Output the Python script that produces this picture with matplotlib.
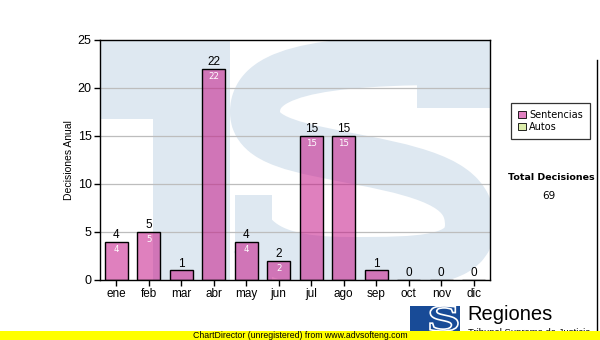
"""
Decisiones anuales por mes (ChartDirector look-alike).
"""

import matplotlib
matplotlib.use("Agg")
import matplotlib.pyplot as plt
import matplotlib.patches as patches
from matplotlib.path import Path
from matplotlib.textpath import TextPath
from matplotlib.font_manager import FontProperties
from matplotlib.transforms import Affine2D


MONTHS = ["ene", "feb", "mar", "abr", "may", "jun",
          "jul", "ago", "sep", "oct", "nov", "dic"]
SENTENCIAS = [4, 5, 1, 22, 4, 2, 15, 15, 1, 0, 0, 0]
Y_TICKS = [0, 5, 10, 15, 20, 25]
LEGEND_LABELS = ["Sentencias", "Autos"]
TOTAL = sum(SENTENCIAS)

W, H = 600, 340
WM_BLUE = "#dee8f1"
BAR_RGBA = (196 / 255, 15 / 255, 132 / 255, 0.53)


def fx(px):
    return px / W


def fy(py):
    return 1 - py / H


fig = plt.figure(figsize=(6, 3.4), dpi=100)
fig.patch.set_facecolor("white")

# plot area: x 100..490, y 40..280 (pixels)
ax = fig.add_axes([fx(100), fy(280), 390 / W, 240 / H])
ax.set_xlim(-0.5, len(MONTHS) - 0.5)
ax.set_ylim(0, 25)


def ax_px(px, py):
    return (px - 100) / 390, (280 - py) / 240


def wm_rect(px0, py0, px1, py1):
    a0, b0 = ax_px(px0, py1)
    a1, b1 = ax_px(px1, py0)
    ax.add_patch(patches.Rectangle((a0, b0), a1 - a0, b1 - b0, transform=ax.transAxes,
                                   facecolor=WM_BLUE, edgecolor="none", zorder=0))


# --- watermark "TS" logo (pixel sketch, clipped to the plot area) ---
wm_rect(80, 30, 230, 119)     # T bar
wm_rect(153, 119, 230, 290)   # T stem
wm_rect(417, 30, 495, 108)    # S top-right spur
wm_rect(235, 195, 272, 290)   # S bottom-left spur

s_pts = [(500, 60), (330, 58), (255, 68), (255, 112),
         (255, 142), (300, 148), (360, 160),
         (440, 175), (470, 190), (470, 225),
         (470, 262), (420, 262), (350, 262),
         (300, 262), (270, 255), (252, 235)]
s_codes = ([Path.MOVETO] + [Path.CURVE4] * 3 + [Path.CURVE4] * 3
           + [Path.CURVE4] * 3 + [Path.CURVE4] * 3 + [Path.CURVE4] * 3)
s_path = Path([ax_px(px, py) for px, py in s_pts], s_codes)
ax.add_patch(patches.PathPatch(s_path, transform=ax.transAxes, facecolor="none",
                               edgecolor=WM_BLUE, linewidth=36, capstyle="butt",
                               joinstyle="round", zorder=0))

# --- grid, bars, labels ---
for t in Y_TICKS[1:-1]:
    ax.axhline(t, color="#bdbdbd", linewidth=0.9, zorder=1)

x = list(range(len(MONTHS)))
ax.bar(x, SENTENCIAS, width=0.7, color=BAR_RGBA, edgecolor="black",
       linewidth=1.0, zorder=2)

for xi, v in zip(x, SENTENCIAS):
    ax.annotate(str(v), (xi, v), xytext=(0, 0.5), textcoords="offset points",
                ha="center", va="bottom", fontsize=8.5, family="Liberation Sans",
                color="black", zorder=3)
    if v >= 2:
        ax.annotate(str(v), (xi, v), xytext=(0, -2.5), textcoords="offset points",
                    ha="center", va="top", fontsize=6.2, family="DejaVu Sans",
                    color="white", zorder=3)

ax.set_xticks(x)
ax.set_xticklabels(MONTHS, family="Liberation Sans", fontsize=8.5)
ax.set_yticks(Y_TICKS)
ax.set_yticklabels([str(t) for t in Y_TICKS], family="Liberation Sans", fontsize=9)
ax.tick_params(axis="both", direction="out", length=4, width=1, color="black", pad=2)
for sp in ax.spines.values():
    sp.set_color("black")
    sp.set_linewidth(1.0)
    sp.set_zorder(4)
ax.set_ylabel("Decisiones Anual", family="Liberation Sans", fontsize=7.5, labelpad=3)

# --- legend ---
handles = [
    patches.Patch(facecolor="#e07fc0", edgecolor="black", linewidth=0.6, label=LEGEND_LABELS[0]),
    patches.Patch(facecolor="#dcedab", edgecolor="black", linewidth=0.6, label=LEGEND_LABELS[1]),
]
leg = fig.legend(handles=handles, loc="upper left", bbox_to_anchor=(fx(511), fy(103)),
                 frameon=True, fancybox=False, edgecolor="black", fontsize=7,
                 handlelength=0.75, handleheight=0.75, handletextpad=0.35,
                 labelspacing=0.15, borderpad=0.75, borderaxespad=0)
leg.get_frame().set_linewidth(0.9)
for t in leg.get_texts():
    t.set_family("DejaVu Sans")

# --- total ---
fig.text(fx(551), fy(178), "Total Decisiones", ha="center", va="center",
         fontsize=6.8, weight="bold", family="DejaVu Sans")
fig.text(fx(549), fy(196), str(TOTAL), ha="center", va="center",
         fontsize=7.5, family="DejaVu Sans")

# right border line
fig.add_artist(plt.Line2D([fx(596.5), fx(596.5)], [fy(60), fy(331)],
                          color="black", linewidth=1.0))

# --- bottom logo ---
fig.add_artist(patches.Rectangle((fx(410), fy(331)), 50 / W, 25 / H,
                                 transform=fig.transFigure, facecolor="#184b97",
                                 edgecolor="none"))
ls_path = TextPath((0, 0), "S", prop=FontProperties(family="Liberation Serif", weight="bold"))
lext = ls_path.get_extents()
lx0, ly0, lx1, ly1 = fx(430), fy(331), fx(458), fy(306)
ls_tr = (Affine2D()
         .translate(-lext.x0, -lext.y0)
         .scale((lx1 - lx0) / lext.width, (ly1 - ly0) / lext.height)
         .translate(lx0, ly0))
fig.add_artist(patches.PathPatch(ls_tr.transform_path(ls_path), transform=fig.transFigure,
                                 facecolor="#184b97", edgecolor="white", linewidth=1.2))
fig.add_artist(patches.Rectangle((fx(410), fy(315)), 18 / W, 9 / H,
                                 transform=fig.transFigure, facecolor="#184b97",
                                 edgecolor="none"))
fig.text(fx(467), fy(315), "Regiones", ha="left", va="center", fontsize=14.5,
         family="Liberation Sans")
fig.text(fx(468), fy(332.5), "Tribunal Supremo de Justicia", ha="left", va="center",
         fontsize=6.8, family="Liberation Sans")

# yellow footer
fig.add_artist(patches.Rectangle((0, 0), 1, 9 / H, transform=fig.transFigure,
                                 facecolor="#ffff00", edgecolor="none", zorder=5))
fig.text(fx(300), fy(335.5), "ChartDirector (unregistered) from www.advsofteng.com",
         ha="center", va="center", fontsize=6.3, family="Liberation Sans", zorder=6)

fig.savefig("out.png", dpi=100)
